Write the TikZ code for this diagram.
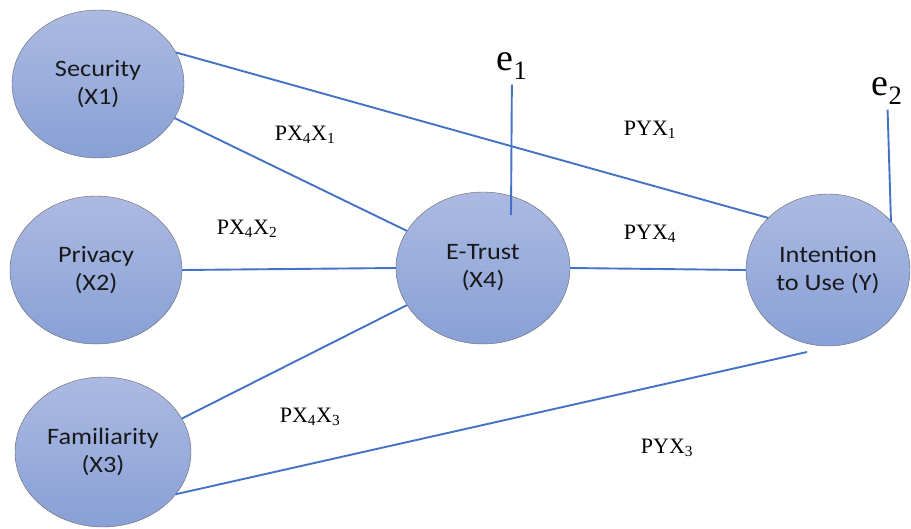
\documentclass[tikz,border=0pt]{standalone}
\usepackage{fontspec}
\setmainfont{Liberation Serif}
\newfontfamily\calib[FakeStretch=1.12]{Carlito}
\usetikzlibrary{positioning}
\usetikzlibrary{shapes}
\definecolor{linkblue}{RGB}{68,114,196}
\definecolor{elltop}{RGB}{172,186,226}
\definecolor{ellbot}{RGB}{136,160,214}
\tikzstyle{construct} = [ellipse, draw=gray!80!black, thin, top color=elltop, bottom color=ellbot,
    text centered, align=center, inner sep=0pt, text=black!90, font=\calib\fontsize{23.5}{28}\selectfont]
\tikzstyle{link} = [draw=linkblue, line width=1.9pt]
\tikzstyle{coef} = [font=\fontsize{22}{24}\selectfont]
\tikzstyle{err} = [font=\fontsize{38}{40}\selectfont, inner sep=5pt]

\begin{document}
\begin{tikzpicture}[x=1pt, y=1pt, node distance=186pt]
\useasboundingbox (0,0) rectangle (911,-528);

\node (sec) [construct, minimum width=172pt, minimum height=148pt] at (98,-84) {Security\\(X1)};
\node (priv) [construct, minimum width=172pt, minimum height=148pt, below of=sec, xshift=-2pt] {Privacy\\(X2)};
\node (fam) [construct, minimum width=176pt, minimum height=150pt, below of=priv, xshift=7pt, yshift=4pt] {Familiarity\\(X3)};
\node (et) [construct, minimum width=174pt, minimum height=152pt, right of=priv, xshift=201pt, yshift=2pt] {E-Trust\\(X4)};
\node (int) [construct, minimum width=164pt, minimum height=152pt, right of=et, xshift=159pt, yshift=-2pt] {Intention\\to Use (Y)};
\node (e1) [err] at (512,-66) {e\textsubscript{1}};
\node (e2) [err] at (887,-91) {e\textsubscript{2}};
\coordinate (e1in) at (511,-215);
\coordinate (e2in) at (891,-222);
\coordinate (fend) at (807,-352);

\draw [link] (sec.22) -- (int.139);
\draw [link] (sec.336) -- (et.154);
\draw [link] (priv.east) -- (et.west);
\draw [link] (fam.23) -- (et.206);
\draw [link] (fam.330) -- (fend);
\draw [link] (et.east) -- (int.west);
\draw [link] (e1) -- (e1in);
\draw [link] (e2) -- (e2in);

\node (b41) [coef] at (305,-135) {PX\textsubscript{4}X\textsubscript{1}};
\node (b42) [coef] at (247,-229) {PX\textsubscript{4}X\textsubscript{2}};
\node (b43) [coef] at (310,-417) {PX\textsubscript{4}X\textsubscript{3}};
\node (by1) [coef] at (650,-130) {PYX\textsubscript{1}};
\node (by4) [coef] at (650,-234) {PYX\textsubscript{4}};
\node (by3) [coef] at (667,-448) {PYX\textsubscript{3}};
\end{tikzpicture}
\end{document}
